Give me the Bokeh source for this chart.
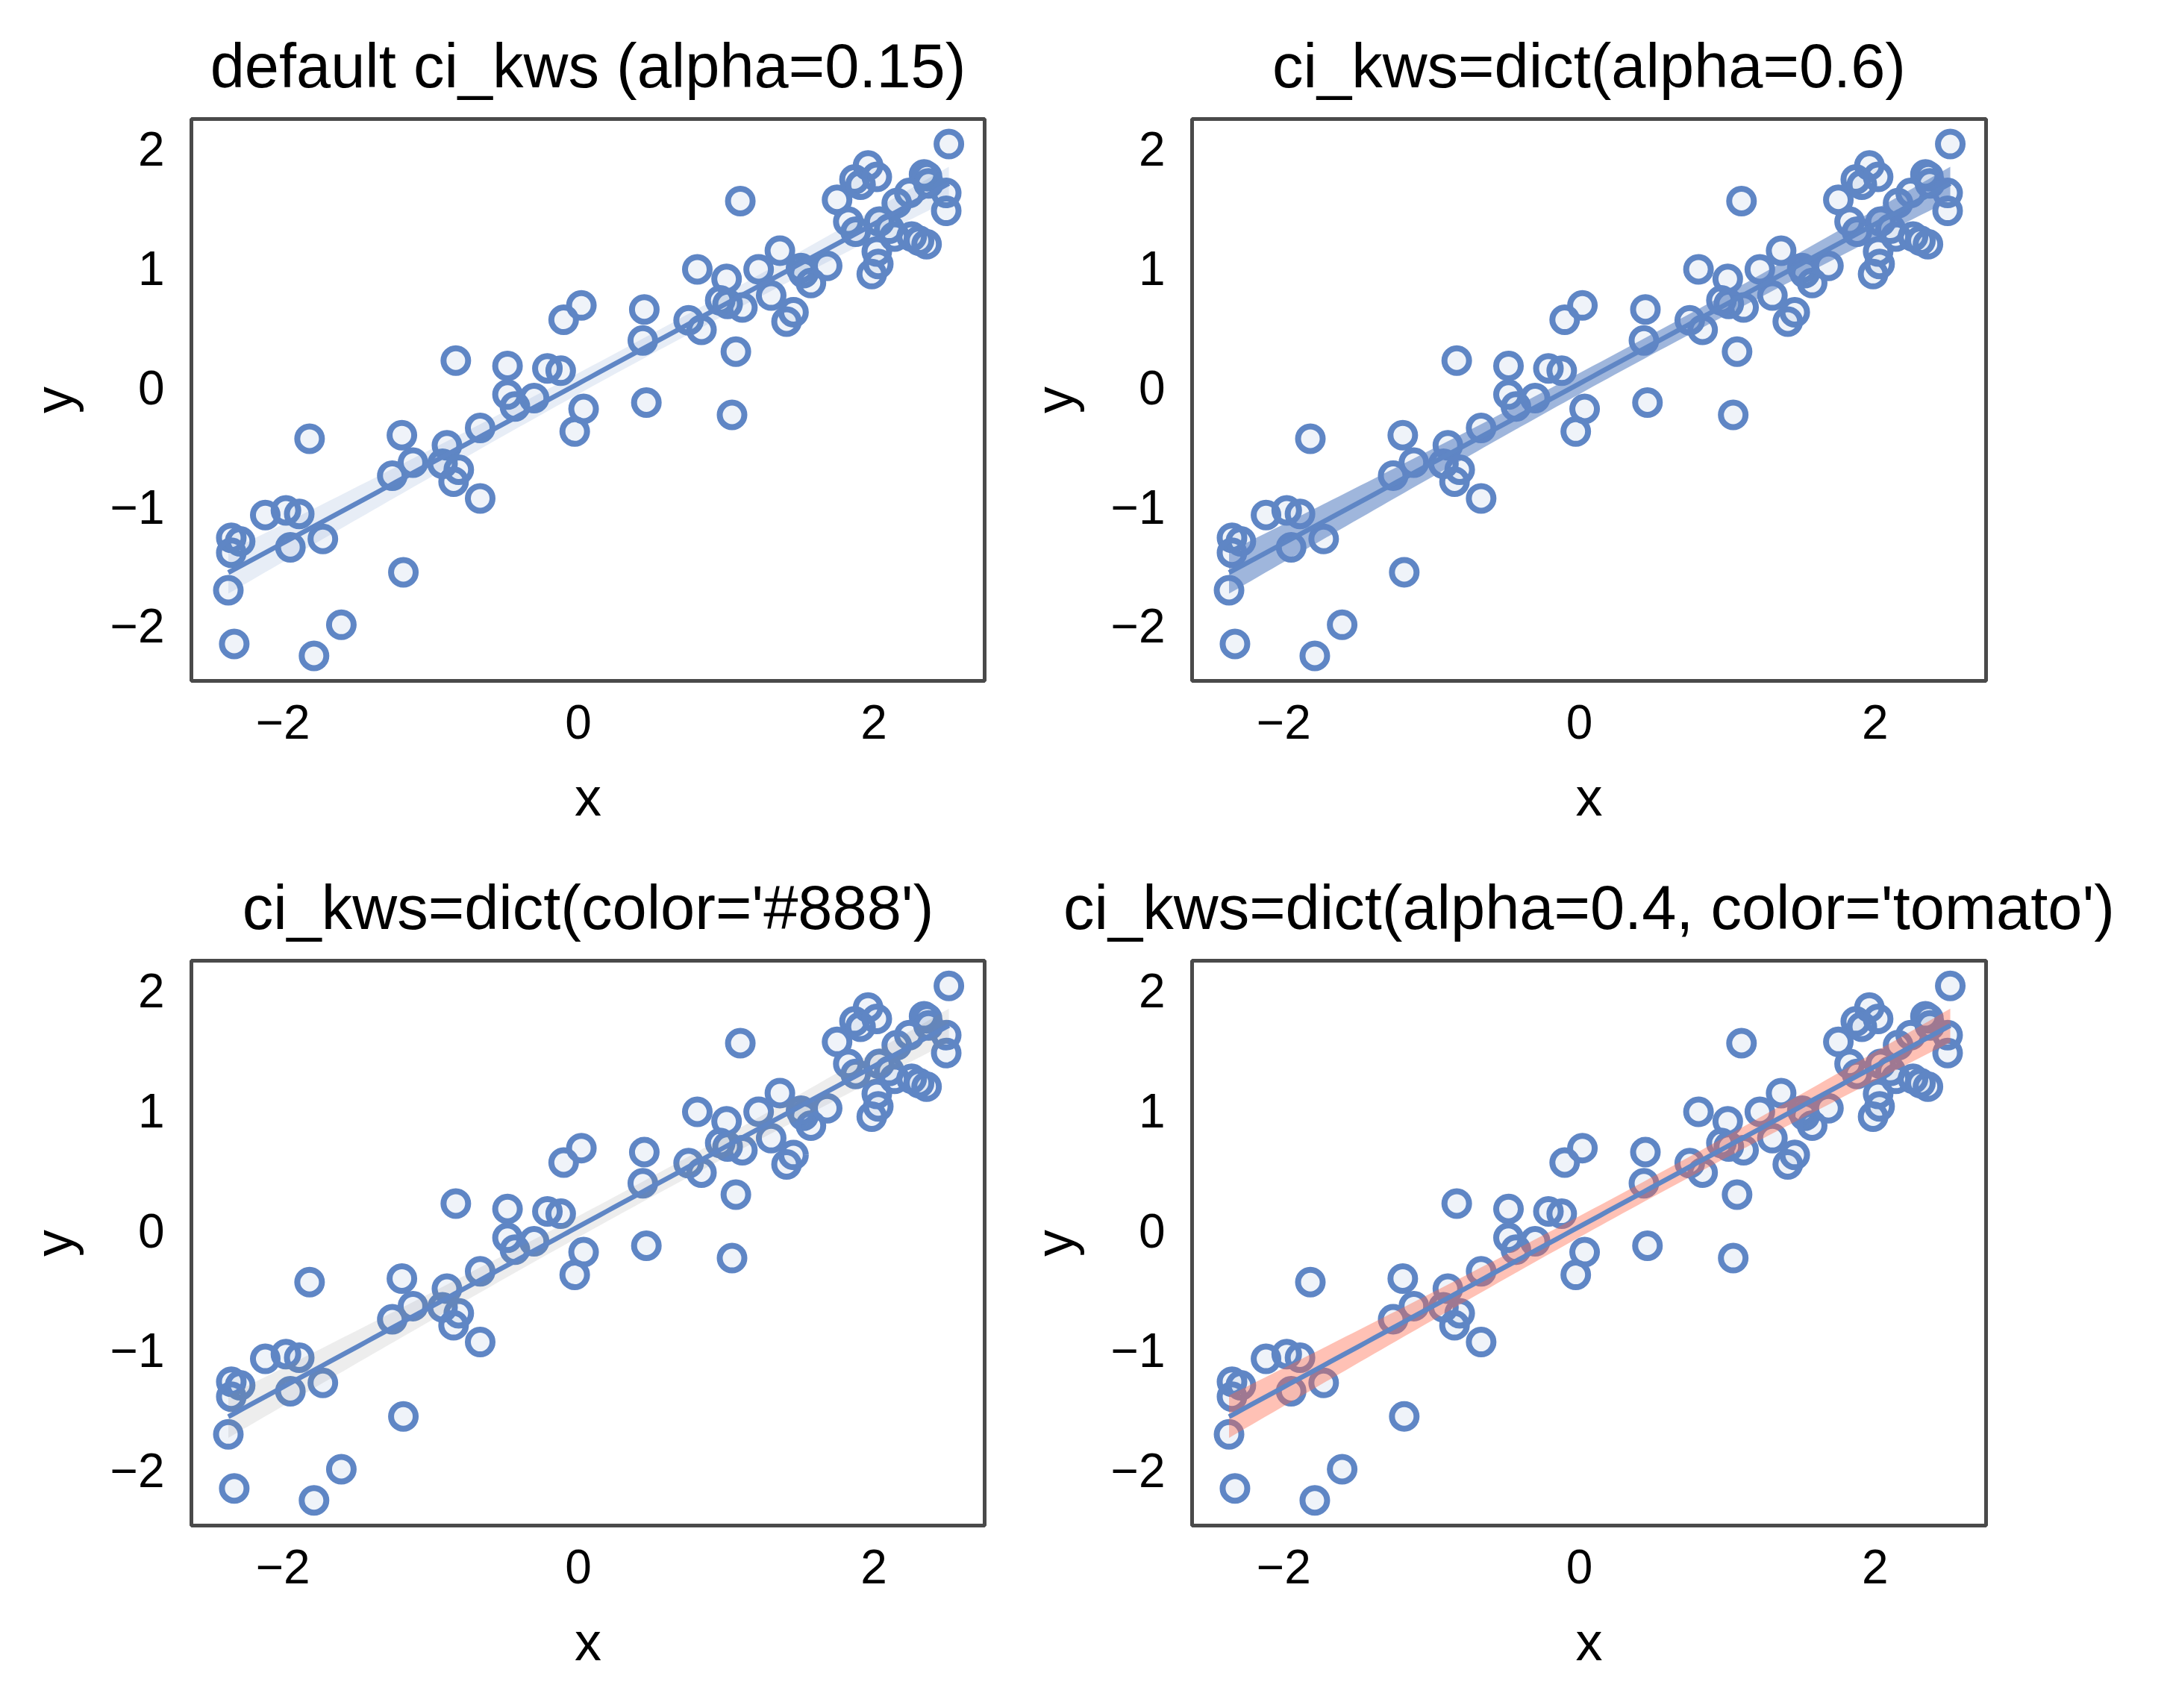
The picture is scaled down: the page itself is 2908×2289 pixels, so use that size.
import numpy as np
from bokeh.plotting import figure
from bokeh.layouts import column, row
from bokeh.models import FixedTicker, Range1d
from bokeh.embed import file_html
from bokeh.resources import INLINE

# ---- data (same points in all four panels) ----
xs = [-2.35, -2.29, -2.35, -2.37, -2.12, -1.98, -1.89, -1.95, -1.73, -1.82,
      -1.195, -1.185, -2.33, -1.79, -1.605, -1.26, -1.12, -0.89, -0.92, -0.81,
      -0.845, -0.665, -0.665, -0.83, -0.48, -0.21, -0.12, -0.48, -0.43, -0.30,
      0.035, -0.025, -0.10, 0.02, 0.446, 0.436, 0.46, 0.746, 0.833, 0.805,
      1.003, 1.096, 1.066, 1.04, 0.96, 1.01, 1.11, 1.22, 1.364, 1.305,
      1.507, 1.524, 1.574, 1.684, 1.456, 1.409, 1.751, 1.869, 1.91, 1.961,
      2.02, 2.34, 2.36, 2.37, 2.49, 2.49, 2.24, 2.155, 1.827, 1.877,
      2.037, 2.104, 2.14, 2.256, 2.306, 2.357, 2.02, 2.03, 1.986, 2.508]
ys = [-1.26, -1.29, -1.385, -1.70, -1.07, -1.03, -1.06, -1.34, -1.27, -0.43,
      -0.40, -1.55, -2.15, -2.25, -1.99, -0.74, -0.63, -0.485, -0.64, -0.69,
      -0.79, -0.34, -0.93, 0.225, 0.18, 0.16, 0.14, -0.06, -0.16, -0.09,
      -0.18, -0.37, 0.567, 0.6875, 0.654, 0.394, -0.127, 0.5625, 0.483, 0.99,
      0.91, 1.5625, 0.30, -0.23, 0.73, 0.70, 0.67, 0.99, 1.146, 0.77,
      1.0, 0.958, 0.875, 1.02, 0.63, 0.552, 1.573, 1.744, 1.70, 1.86,
      1.765, 1.786, 1.77, 1.71, 1.63, 1.48, 1.63, 1.545, 1.39, 1.306,
      1.39, 1.33, 1.265, 1.265, 1.23, 1.20, 1.14, 1.035, 0.95, 2.04]

titles = ["default ci_kws (alpha=0.15)", "ci_kws=dict(alpha=0.6)",
          "ci_kws=dict(color='#888')", "ci_kws=dict(alpha=0.4, color='tomato')"]
band_colors = ["#5f86c5", "#5f86c5", "#888888", "tomato"]
band_alphas = [0.15, 0.6, 0.15, 0.4]
x_ticks = [-2, 0, 2]
x_tick_labels = ["\u22122", "0", "2"]
y_ticks = [-2, -1, 0, 1, 2]
y_tick_labels = ["\u22122", "\u22121", "0", "1", "2"]

BLUE = "#5f86c5"
FONT = "Liberation Sans"

# ---- regression fit with 95% confidence band ----
xa = np.array(xs)
ya = np.array(ys)
n = len(xa)
slope, intercept = np.polyfit(xa, ya, 1)
resid = ya - (slope * xa + intercept)
s = np.sqrt(np.sum(resid ** 2) / (n - 2))
xbar = xa.mean()
sxx = np.sum((xa - xbar) ** 2)
xg = np.linspace(xa.min(), xa.max(), 100)
yg = slope * xg + intercept
se = s * np.sqrt(1.0 / n + (xg - xbar) ** 2 / sxx)
tval = 1.99
lo = yg - tval * se
hi = yg + tval * se


def make_panel(i, width, height, bl, br, bt, bb):
    p = figure(width=width, height=height, output_backend="svg",
               toolbar_location=None, x_range=Range1d(-2.62, 2.75),
               y_range=Range1d(-2.46, 2.25),
               min_border_left=bl, min_border_right=br,
               min_border_top=bt, min_border_bottom=bb,
               background_fill_color="white", border_fill_color="white")
    p.title.text = titles[i]
    p.title.text_font = FONT
    p.title.text_font_size = "83px"
    p.title.text_font_style = "normal"
    p.title.align = "center"
    p.title.text_color = "black"
    p.title.standoff = 50
    p.grid.visible = False
    p.outline_line_color = "#4a4a4a"
    p.outline_line_width = 5

    p.scatter(xs, ys, size=33, marker="circle", line_color=BLUE, line_width=8,
              fill_color=BLUE, fill_alpha=0.1)
    p.varea(x=xg, y1=lo, y2=hi, fill_color=band_colors[i], fill_alpha=band_alphas[i])
    p.line(xg, yg, line_color=BLUE, line_width=6.5)

    p.xaxis.ticker = FixedTicker(ticks=x_ticks)
    p.yaxis.ticker = FixedTicker(ticks=y_ticks)
    p.xaxis.major_label_overrides = {t: l for t, l in zip(x_ticks, x_tick_labels)}
    p.yaxis.major_label_overrides = {t: l for t, l in zip(y_ticks, y_tick_labels)}
    p.xaxis.axis_label = "x"
    p.yaxis.axis_label = "y"
    for ax in (p.xaxis, p.yaxis):
        ax.axis_line_color = None
        ax.major_tick_line_color = None
        ax.minor_tick_line_color = None
        ax.major_tick_out = 0
        ax.major_tick_in = 0
        ax.minor_tick_out = 0
        ax.minor_tick_in = 0
        ax.major_label_text_font = FONT
        ax.major_label_text_font_size = "64px"
        ax.major_label_text_color = "black"
        ax.axis_label_text_font = FONT
        ax.axis_label_text_font_size = "72px"
        ax.axis_label_text_font_style = "normal"
        ax.axis_label_text_color = "black"
    p.xaxis.major_label_standoff = 32
    p.yaxis.major_label_standoff = 36
    p.xaxis.axis_label_standoff = 35
    p.yaxis.axis_label_standoff = 33
    p.yaxis.major_label_orientation = "horizontal"
    return p


p1 = make_panel(0, 1341, 1128, 256, 22, 159, 216)
p2 = make_panel(1, 1567, 1128, 256, 247, 159, 216)
p3 = make_panel(2, 1341, 1152, 256, 22, 159, 236)
p4 = make_panel(3, 1567, 1152, 256, 247, 159, 236)

layout = column(row(p1, p2, spacing=0), row(p3, p4, spacing=0), spacing=0)

open("out.html", "w").write(file_html(layout, INLINE))
